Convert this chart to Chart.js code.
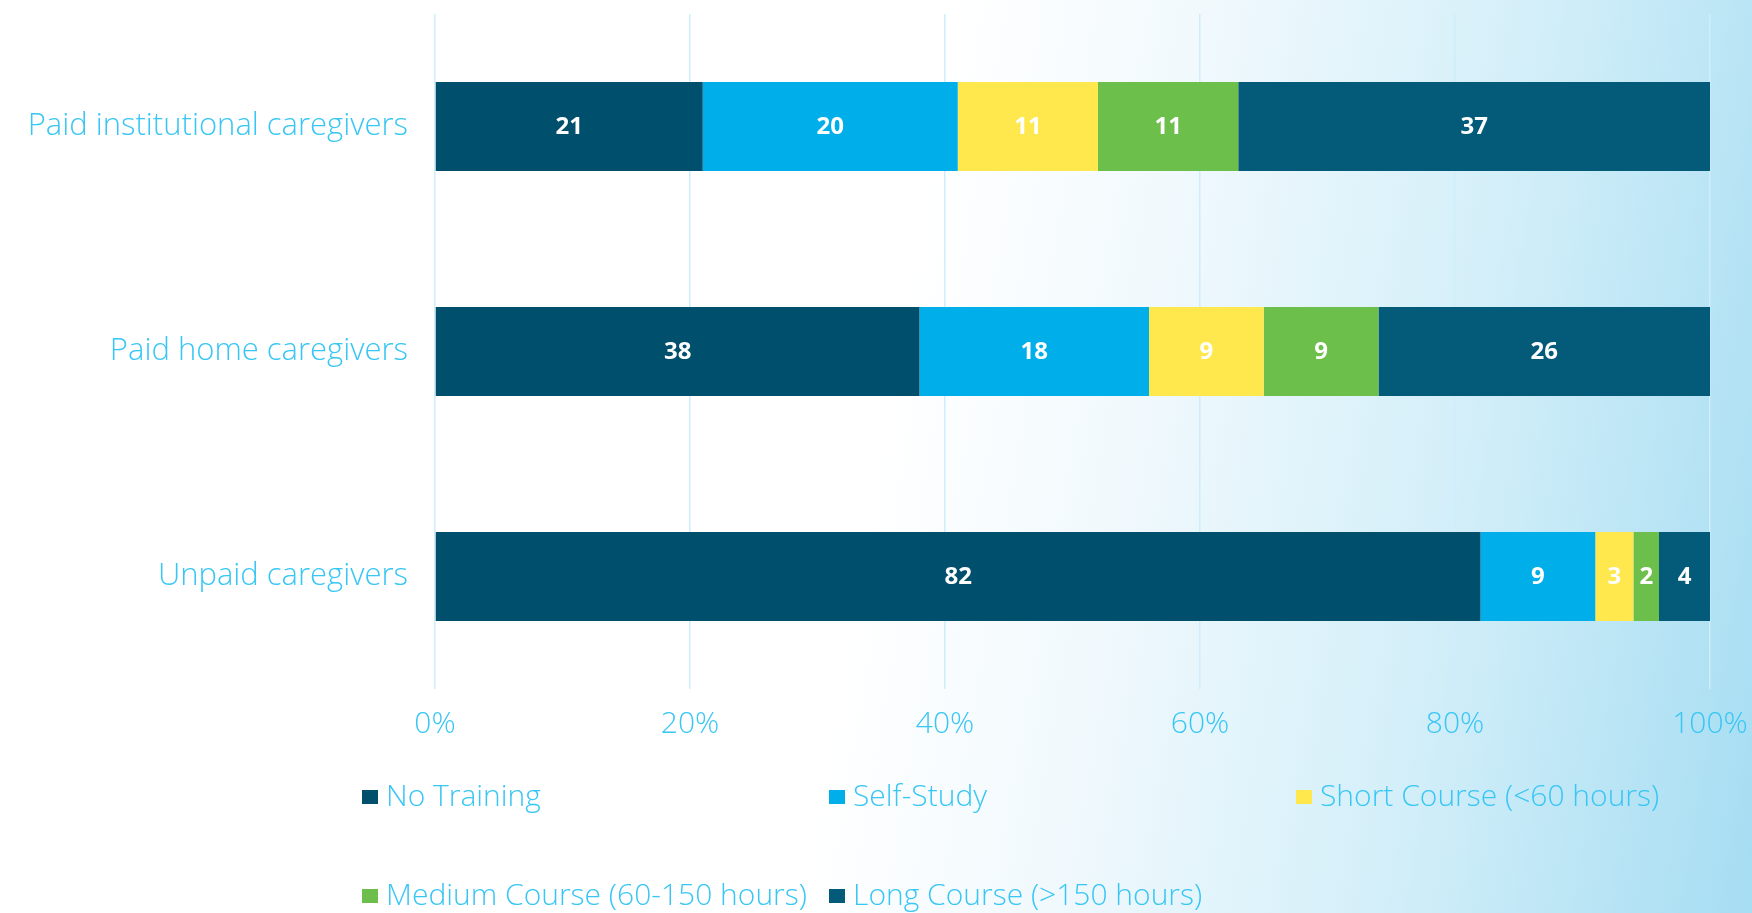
<!DOCTYPE html>
<html>
<head>
<meta charset="utf-8">
<script src="https://cdn.jsdelivr.net/npm/chart.js@4.4.1/dist/chart.umd.min.js"></script>
<style>
  html, body { margin: 0; padding: 0; }
  #wrap {
    width: 1752px;
    height: 913px;
    position: relative;
    background: linear-gradient(100deg, #ffffff 0%, #ffffff 50%, #f1f9fd 63%, #d4eff9 80%, #a6ddf2 100%);
  }
</style>
</head>
<body>
<div id="wrap"><canvas id="trainingChart"></canvas></div>
<script>
/* ============================================================
   DATA
============================================================ */
const groups = ["Paid institutional caregivers", "Paid home caregivers", "Unpaid caregivers"];

const noTraining    = [21, 38, 82];
const selfStudy     = [20, 18, 9];
const shortCourse   = [11, 9, 3];
const mediumCourse  = [11, 9, 2];
const longCourse    = [37, 26, 4];

const seriesNames  = ["No Training", "Self-Study", "Short Course (<60 hours)", "Medium Course (60-150 hours)", "Long Course (>150 hours)"];
const seriesColors = ["#004f6d", "#00aeea", "#ffe84d", "#6cbf4a", "#035b79"];

const xTicks = [0, 20, 40, 60, 80, 100];

const TEXT_BLUE = "#38c6f4";
const FONT = "'Open Sans', sans-serif";

/* ============================================================
   PLUGIN — etichette valori dentro le barre
============================================================ */
const barValueLabels = {
    id: "barValueLabels",
    afterDatasetsDraw(chart) {
        const ctx = chart.ctx;
        ctx.save();
        ctx.fillStyle = "#ffffff";
        ctx.font = "bold 24px " + FONT;
        ctx.textAlign = "center";
        ctx.textBaseline = "middle";
        chart.data.datasets.forEach((ds, i) => {
            const meta = chart.getDatasetMeta(i);
            meta.data.forEach((bar, j) => {
                const v = ds.data[j];
                if (!v) return;
                const p = bar.getCenterPoint();
                ctx.fillText(String(v), p.x, p.y + 1);
            });
        });
        ctx.restore();
    }
};

/* ============================================================
   PLUGIN — legenda a colonne fisse
============================================================ */
const gridLegend = {
    id: "gridLegend",
    afterDraw(chart) {
        const ctx = chart.ctx;
        const left = 362, colStep = 467, top = 797, rowStep = 99;
        ctx.save();
        ctx.font = "300 30px " + FONT;
        ctx.textBaseline = "middle";
        ctx.textAlign = "left";
        chart.data.datasets.forEach((ds, i) => {
            const col = i % 3;
            const row = Math.floor(i / 3);
            const x = left + col * colStep;
            const y = top + row * rowStep;
            ctx.fillStyle = ds.backgroundColor;
            ctx.fillRect(x, y - 7, 16, 14);
            ctx.fillStyle = TEXT_BLUE;
            ctx.fillText(ds.label, x + 24, y);
        });
        ctx.restore();
    }
};

/* ============================================================
   GRAFICO
============================================================ */
const seriesData = [noTraining, selfStudy, shortCourse, mediumCourse, longCourse];

new Chart(document.getElementById("trainingChart"), {
    type: "bar",
    data: {
        labels: groups,
        datasets: seriesNames.map((name, i) => ({
            label: name,
            data: seriesData[i],
            backgroundColor: seriesColors[i],
            borderWidth: 0,
            barPercentage: 0.395,
            categoryPercentage: 1
        }))
    },
    options: {
        indexAxis: "y",
        responsive: true,
        maintainAspectRatio: false,
        animation: false,
        layout: { padding: { top: 14, right: 42, bottom: 164, left: 0 } },
        plugins: {
            legend: { display: false },
            tooltip: { enabled: false }
        },
        scales: {
            x: {
                stacked: true,
                min: 0,
                max: 100,
                afterBuildTicks: (s) => { s.ticks = xTicks.map(v => ({ value: v })); },
                afterFit: (s) => {
                    s.height = 60;
                    s.paddingLeft = 0;
                    s.paddingRight = 0;
                },
                grid: { color: "#cdeefa", lineWidth: 1.5, drawTicks: false },
                border: { display: false },
                ticks: {
                    color: TEXT_BLUE,
                    font: { family: FONT, size: 30, weight: 300 },
                    padding: 17,
                    callback: (v) => v + "%"
                }
            },
            y: {
                stacked: true,
                afterFit: (s) => {
                    s.width = 435;
                    s.paddingTop = 0;
                    s.paddingBottom = 0;
                },
                grid: { display: false, drawTicks: false },
                border: { display: false },
                ticks: {
                    color: TEXT_BLUE,
                    font: { family: FONT, size: 31, weight: 300 },
                    padding: 27
                }
            }
        }
    },
    plugins: [barValueLabels, gridLegend]
});
</script>
</body>
</html>
